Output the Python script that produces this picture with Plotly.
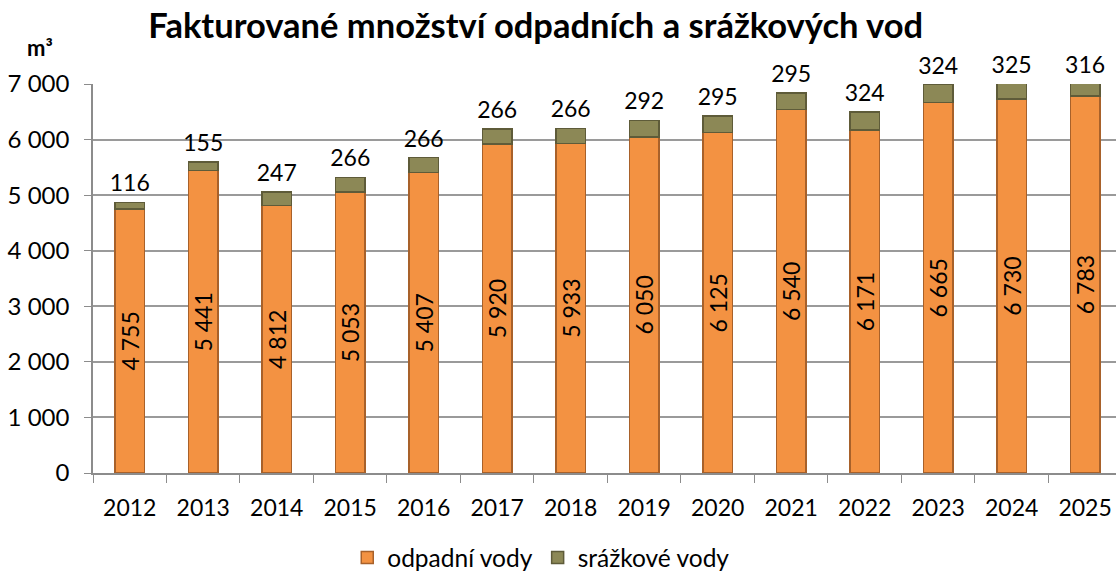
import plotly.graph_objects as go

years = ["2012", "2013", "2014", "2015", "2016", "2017", "2018", "2019",
         "2020", "2021", "2022", "2023", "2024", "2025"]
odpadni = [4755, 5441, 4812, 5053, 5407, 5920, 5933, 6050, 6125, 6540, 6171, 6665, 6730, 6783]
srazkove = [116, 155, 247, 266, 266, 266, 266, 292, 295, 295, 324, 324, 325, 316]
y_ticks = [0, 1000, 2000, 3000, 4000, 5000, 6000, 7000]
y_tick_labels = ["0", "1 000", "2 000", "3 000", "4 000", "5 000", "6 000", "7 000"]

FONT = "Lato"
y_max = 7000

def fmt(v):
    return f"{v:,}".replace(",", " ")

fig = go.Figure()
fig.add_trace(go.Bar(
    x=years, y=odpadni, name="odpadní vody",
    marker=dict(color="#F39242", line=dict(color="#A8612A", width=1.5)),
    text=[fmt(v) for v in odpadni], textposition="inside",
    insidetextanchor="middle", textangle=-90, constraintext="none",
    textfont=dict(family=FONT, size=23, color="black"),
))
fig.add_trace(go.Bar(
    x=years, y=srazkove, name="srážkové vody",
    marker=dict(color="#8C8856", line=dict(color="#5E5B39", width=1.5)),
    hoverinfo="skip",
))
totals = [min(a + b, y_max) for a, b in zip(odpadni, srazkove)]
fig.add_trace(go.Scatter(
    x=years, y=totals, mode="markers+text", text=[str(v) for v in srazkove],
    marker=dict(size=7, opacity=0),
    textposition="top center", textfont=dict(family=FONT, size=23, color="black"),
    showlegend=False, cliponaxis=False, hoverinfo="skip",
))

fig.update_layout(
    barmode="stack", bargap=0.6,
    width=1116, height=576,
    margin=dict(l=93, r=0, t=84, b=103, autoexpand=False),
    paper_bgcolor="white", plot_bgcolor="white",
    font=dict(family=FONT, size=23, color="black"),
    title=dict(text="<b>Fakturované množství odpadních a srážkových vod</b>",
               x=0.48, xanchor="center", y=0.955, yanchor="middle",
               font=dict(family=FONT, size=34.5, color="black")),
    legend=dict(orientation="h", x=0.485, xanchor="center", xref="container",
                y=0.032, yanchor="middle", yref="container",
                font=dict(family=FONT, size=24.5), itemwidth=30, traceorder="normal"),
    xaxis=dict(range=[-0.5, 13.42], showline=True, linecolor="#8C8C8C", linewidth=1.5,
               automargin=False,
               ticks="outside", tickson="boundaries", ticklen=8, tickcolor="#8C8C8C",
               ticklabelstandoff=14, tickfont=dict(family=FONT, size=23)),
    yaxis=dict(range=[0, y_max], tickvals=y_ticks, ticktext=y_tick_labels,
               showline=True, linecolor="#8C8C8C", linewidth=1.5, automargin=False,
               showgrid=True, gridcolor="#9A9A9A", gridwidth=1.5,
               ticks="outside", ticklen=7, tickcolor="#8C8C8C",
               ticklabelstandoff=10, tickfont=dict(family=FONT, size=24)),
    annotations=[dict(text="<b>m³</b>", xref="paper", yref="paper", x=-0.052, y=1.095,
                      xanchor="center", yanchor="middle", showarrow=False,
                      font=dict(family=FONT, size=22, color="black"))],
)

fig.write_html("out.html", config={"displayModeBar": False},
               post_script="document.body.style.margin='0';document.body.style.overflow='hidden';")
